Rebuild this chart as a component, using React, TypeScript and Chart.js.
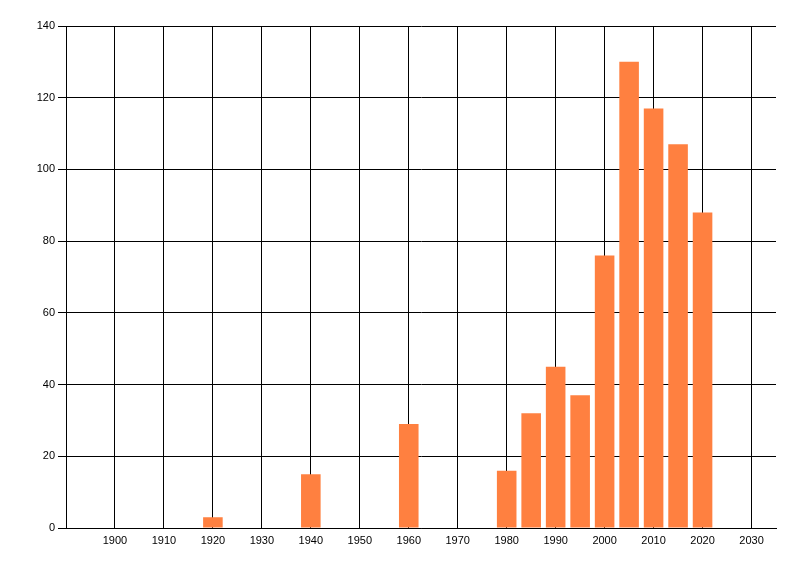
import React, { useEffect, useRef } from "react";
import { Chart, registerables } from "chart.js";

Chart.register(...registerables);

const years = [1920, 1940, 1960, 1980, 1985, 1990, 1995, 2000, 2005, 2010, 2015, 2020];
const counts = [3, 15, 29, 16, 32, 45, 37, 76, 130, 117, 107, 88];
const xTickValues = [1900, 1910, 1920, 1930, 1940, 1950, 1960, 1970, 1980, 1990, 2000, 2010, 2020, 2030];
const yTickValues = [0, 20, 40, 60, 80, 100, 120, 140];

const FONT = { family: "'Liberation Sans', Arial, sans-serif", size: 11 };

export default function App() {
  const ref = useRef<HTMLCanvasElement | null>(null);

  useEffect(() => {
    if (!ref.current) return;
    const chart = new Chart(ref.current, {
      type: "bar",
      data: {
        datasets: [
          {
            data: years.map((y, i) => ({ x: y, y: counts[i] })),
            backgroundColor: "#FF8040",
            borderWidth: 0,
            categoryPercentage: 1,
            barPercentage: 0.8,
          },
        ],
      },
      options: {
        animation: false,
        responsive: false,
        devicePixelRatio: 1,
        layout: { padding: { top: 26, right: 24, left: 0, bottom: 0 } },
        plugins: { legend: { display: false }, tooltip: { enabled: false } },
        scales: {
          x: {
            type: "linear",
            min: 1890,
            max: 2035,
            offset: false,
            afterBuildTicks: (scale: any) => {
              scale.ticks = xTickValues.map((v) => ({ value: v }));
            },
            afterFit: (scale: any) => {
              scale.height = 48;
            },
            ticks: {
              color: "#000",
              font: FONT,
              padding: 6,
              maxRotation: 0,
              autoSkip: false,
              callback: (v: any) => String(v),
            },
            grid: { color: "#000", lineWidth: 1, drawTicks: false, offset: false },
            border: { display: true, color: "#000", width: 1 },
          },
          y: {
            type: "linear",
            min: 0,
            max: 140,
            afterBuildTicks: (scale: any) => {
              scale.ticks = yTickValues.map((v) => ({ value: v }));
            },
            afterFit: (scale: any) => {
              scale.width = 66;
            },
            ticks: { color: "#000", font: FONT, padding: 3, autoSkip: false },
            grid: { color: "#000", lineWidth: 1, drawTicks: true, tickLength: 8, tickColor: "#000" },
            border: { display: true, color: "#000", width: 1 },
          },
        },
      },
    });
    return () => chart.destroy();
  }, []);

  return (
    <div style={{ position: "absolute", left: 0, top: 0, width: 800, height: 576, background: "#fff" }}>
      <canvas ref={ref} width={800} height={576} style={{ display: "block" }} />
    </div>
  );
}
